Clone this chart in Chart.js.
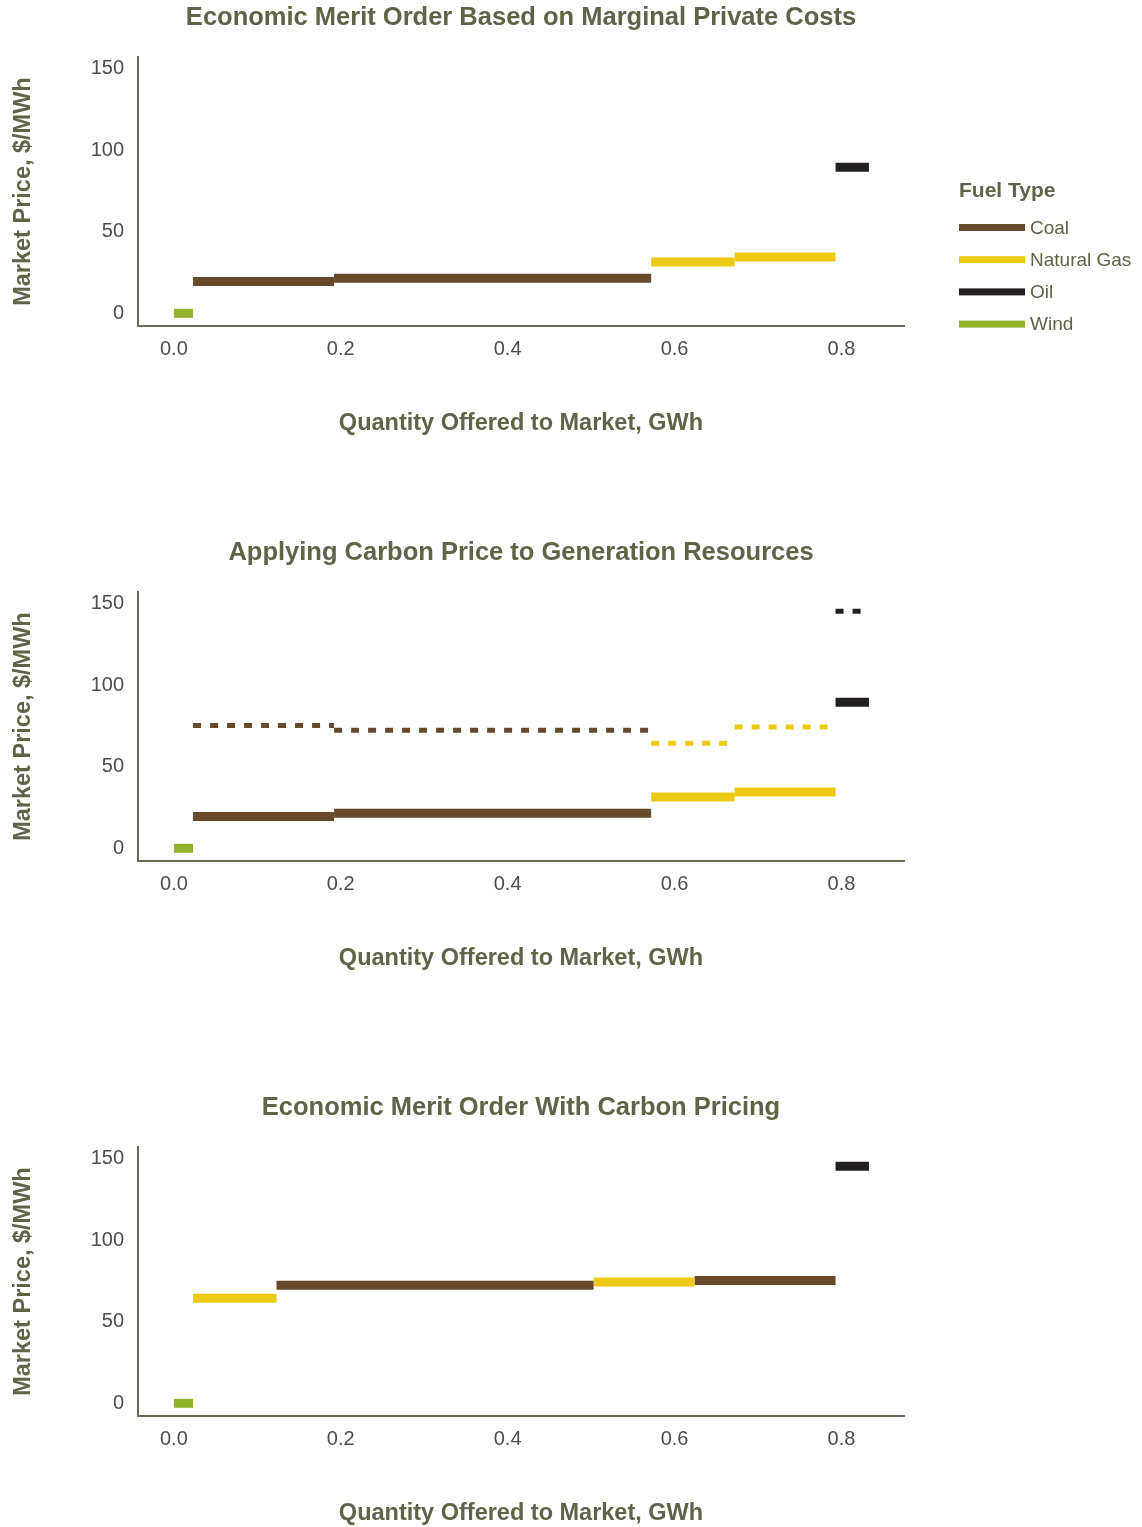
<!DOCTYPE html>
<html>
<head>
<meta charset="utf-8">
<script src="https://cdn.jsdelivr.net/npm/chart.js@4.4.0/dist/chart.umd.min.js"></script>
<style>
    html, body { margin: 0; padding: 0; background: #ffffff; overflow: hidden; }
    .painel { position: absolute; left: 0; width: 1142px; height: 450px; }
</style>
</head>
<body>
<div class="painel" style="top:0px"><canvas id="chart1"></canvas></div>
<div class="painel" style="top:535px"><canvas id="chart2"></canvas></div>
<div class="painel" style="top:1090px"><canvas id="chart3"></canvas></div>

<script>
// generation resources, in merit order of private cost
var resources = ['Wind', 'Coal A', 'Coal B', 'Gas A', 'Gas B', 'Oil'];
var fuelOf = ['Wind', 'Coal', 'Coal', 'Natural Gas', 'Natural Gas', 'Oil'];
var capacity = [0.023, 0.169, 0.38, 0.1, 0.121, 0.04];          // GWh offered
var privateCost = [0, 19.5, 21.5, 31.5, 34.5, 89.5];            // $/MWh
var carbonCost = [0, 75.3, 72.3, 64.3, 74.4, 145.3];            // $/MWh with carbon price

var fuelTypes = ['Coal', 'Natural Gas', 'Oil', 'Wind'];
var fuelColors = ['#674a2c', '#eec914', '#231f20', '#93b22b'];

var xTicks = [0, 0.2, 0.4, 0.6, 0.8];
var yTicks = [0, 50, 100, 150];

var fonte = "'Liberation Sans', Arial, Helvetica, sans-serif";
var corTexto = '#5f6348';
var corEixo = '#6b6b55';

Chart.defaults.font.family = fonte;

function corDe(i) {
    return fuelColors[fuelTypes.indexOf(fuelOf[i])];
}

function montaDegraus(ordem, custos, tracejado) {
    var inicio = 0;
    var lista = [];
    ordem.forEach(function (i) {
        var fim = inicio + capacity[i];
        if (!tracejado || custos[i] !== privateCost[i]) {
            lista.push({
                label: fuelOf[i] + (tracejado ? ' (carbon)' : ''),
                data: [{ x: inicio, y: custos[i] }, { x: fim, y: custos[i] }],
                borderColor: corDe(i),
                backgroundColor: corDe(i),
                borderWidth: tracejado ? 5 : 9,
                borderDash: tracejado ? [8, 9] : [],
                borderCapStyle: 'butt',
                pointRadius: 0,
                pointHoverRadius: 0,
                fill: false,
                tension: 0
            });
        }
        inicio = fim;
    });
    return lista;
}

var legendaCombustivel = {
    id: 'legendaCombustivel',
    afterDraw: function (chart) {
        var ctx = chart.ctx;
        var x0 = chart.chartArea.right + 55;
        ctx.save();
        ctx.textBaseline = 'middle';
        ctx.textAlign = 'left';
        ctx.fillStyle = corTexto;
        ctx.font = 'bold 21px ' + fonte;
        ctx.fillText('Fuel Type', x0, 191);
        ctx.font = '19px ' + fonte;
        fuelTypes.forEach(function (nome, i) {
            var y = 227.5 + i * 32.2;
            ctx.fillStyle = fuelColors[i];
            ctx.fillRect(x0, y - 3.5, 66, 7);
            ctx.fillStyle = corTexto;
            ctx.fillText(nome, x0 + 71, y + 1);
        });
        ctx.restore();
    }
};

function opcoes(titulo) {
    return {
        responsive: true,
        maintainAspectRatio: false,
        animation: false,
        layout: { padding: { top: 0, right: 238, bottom: 0, left: 0 } },
        plugins: {
            legend: { display: false },
            tooltip: { enabled: false },
            title: {
                display: true,
                text: titulo,
                fullSize: false,
                color: corTexto,
                font: { size: 25.5, weight: 'bold' },
                padding: { top: 3, bottom: 23.5 }
            }
        },
        scales: {
            x: {
                type: 'linear',
                min: -0.043,
                max: 0.875,
                grid: { display: false, drawTicks: false },
                border: { display: true, color: corEixo, width: 2 },
                afterBuildTicks: function (eixo) {
                    eixo.ticks = xTicks.map(function (v) { return { value: v }; });
                },
                afterFit: function (eixo) { eixo.height = 124; },
                ticks: {
                    padding: 11,
                    color: '#4d4d4d',
                    font: { size: 20 },
                    callback: function (v) { return Number(v).toFixed(1); }
                },
                title: {
                    display: true,
                    text: 'Quantity Offered to Market, GWh',
                    color: corTexto,
                    font: { size: 23.5, weight: 'bold' },
                    padding: { top: 0, bottom: 12 }
                }
            },
            y: {
                type: 'linear',
                min: -7.8,
                max: 157,
                grid: { display: false, drawTicks: false },
                border: { display: true, color: corEixo, width: 2 },
                afterBuildTicks: function (eixo) {
                    eixo.ticks = yTicks.map(function (v) { return { value: v }; });
                },
                afterFit: function (eixo) { eixo.width = 138; },
                ticks: {
                    padding: 14,
                    color: '#4d4d4d',
                    font: { size: 20 }
                },
                title: {
                    display: true,
                    text: 'Market Price, $/MWh',
                    color: corTexto,
                    font: { size: 23.5, weight: 'bold' },
                    padding: { top: 9, bottom: 0 }
                }
            }
        }
    };
}

var ordemPrivada = resources.map(function (r, i) { return i; });
var ordemCarbono = ordemPrivada.slice().sort(function (a, b) { return carbonCost[a] - carbonCost[b]; });

var grafico1 = new Chart(document.getElementById('chart1'), {
    type: 'line',
    data: { datasets: montaDegraus(ordemPrivada, privateCost, false) },
    options: opcoes('Economic Merit Order Based on Marginal Private Costs'),
    plugins: [legendaCombustivel]
});

var grafico2 = new Chart(document.getElementById('chart2'), {
    type: 'line',
    data: { datasets: montaDegraus(ordemPrivada, privateCost, false).concat(montaDegraus(ordemPrivada, carbonCost, true)) },
    options: opcoes('Applying Carbon Price to Generation Resources')
});

var grafico3 = new Chart(document.getElementById('chart3'), {
    type: 'line',
    data: { datasets: montaDegraus(ordemCarbono, carbonCost, false) },
    options: opcoes('Economic Merit Order With Carbon Pricing')
});
</script>
</body>
</html>
